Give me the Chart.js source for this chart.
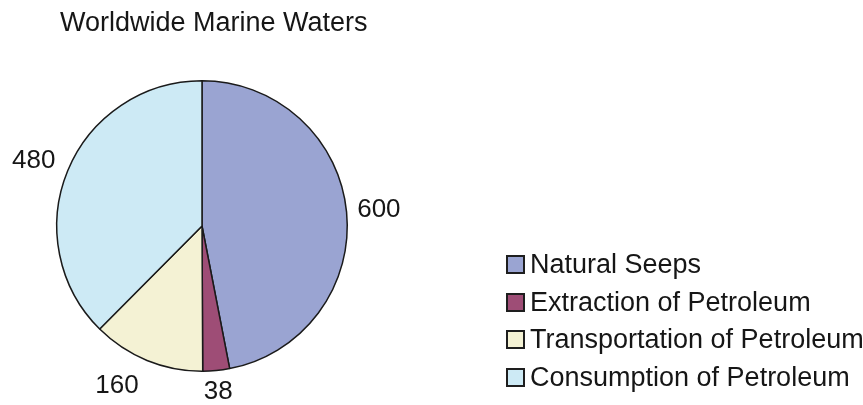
<!DOCTYPE html>
<html>
<head>
<meta charset="utf-8">
<title>Worldwide Marine Waters</title>
<script src="https://cdn.jsdelivr.net/npm/chart.js@4/dist/chart.umd.min.js"></script>
<style>
  html, body { margin:0; padding:0; background:#fff; }
  body { width:863px; height:405px; position:relative; overflow:hidden;
         font-family:"Liberation Sans", Arial, Helvetica, sans-serif; color:#161616; }
  #chart { position:absolute; left:0; top:0; }
  .title { position:absolute; left:60px; top:9px; font-size:27px; line-height:27px; white-space:nowrap; }
  .legend { position:absolute; left:506px; top:253px; }
  .legend .row { height:37.7px; display:flex; align-items:flex-start; white-space:nowrap; }
  .legend .box { width:15px; height:15px; border:2px solid #1e1e1e; margin-top:2px; }
  .legend .txt { font-size:27px; line-height:22px; margin-left:5px; }
</style>
</head>
<body>
<canvas id="chart" width="863" height="405"></canvas>
<div class="title">Worldwide Marine Waters</div>
<div class="legend" id="legend"></div>

<script>
// ---- data ----
const categories = ["Natural Seeps", "Extraction of Petroleum", "Transportation of Petroleum", "Consumption of Petroleum"];
const values = [600, 38, 160, 480];
const colors = ["#9aa4d2", "#9e4d76", "#f4f2d4", "#cdeaf5"];

// etiquetas de valor fuera de cada sector (desplazamiento extra en px, solo estilo)
const labelShift = [[0, 0], [0, 0], [-20, 0], [-3, 2]];

const valueLabels = {
  id: "valueLabels",
  afterDatasetsDraw(chart) {
    const ctx = chart.ctx;
    const meta = chart.getDatasetMeta(0);
    ctx.save();
    ctx.font = '26px "Liberation Sans", Arial, sans-serif';
    ctx.fillStyle = "#161616";
    ctx.textAlign = "center";
    ctx.textBaseline = "middle";
    meta.data.forEach((arc, i) => {
      const p = arc.getProps(["x", "y", "startAngle", "endAngle", "outerRadius"], true);
      const mid = (p.startAngle + p.endAngle) / 2;
      const txt = String(values[i]);
      const hw = ctx.measureText(txt).width / 2;
      const hh = 9;
      const r = p.outerRadius + 10 + hw * Math.abs(Math.cos(mid)) + hh * Math.abs(Math.sin(mid));
      const s = labelShift[i] || [0, 0];
      ctx.fillText(txt, p.x + Math.cos(mid) * r + s[0], p.y + Math.sin(mid) * r + 1 + s[1]);
    });
    ctx.restore();
  }
};

const chart = new Chart(document.getElementById("chart"), {
  type: "pie",
  data: {
    labels: categories,
    datasets: [{
      data: values,
      backgroundColor: colors,
      borderColor: "#1a1a1a",
      borderWidth: 1.5
    }]
  },
  options: {
    responsive: false,
    animation: false,
    layout: { padding: { left: 56, top: 80, right: 515, bottom: 33 } },
    plugins: {
      legend: { display: false },
      tooltip: { enabled: false }
    }
  },
  plugins: [valueLabels]
});

// leyenda html
const legendEl = document.getElementById("legend");
categories.forEach((c, i) => {
  const row = document.createElement("div");
  row.className = "row";
  row.innerHTML = `<div class="box" style="background:${colors[i]}"></div><div class="txt">${c}</div>`;
  legendEl.appendChild(row);
});
</script>
</body>
</html>
